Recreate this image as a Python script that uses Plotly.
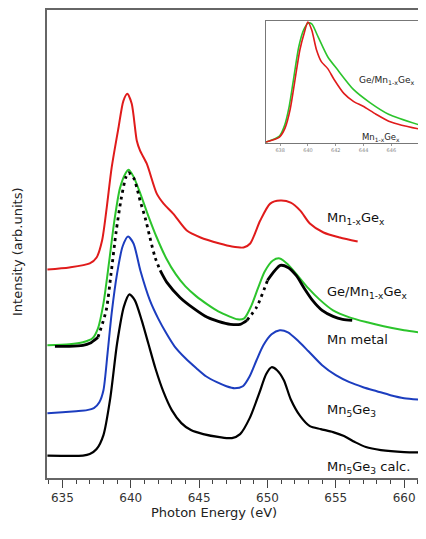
import plotly.graph_objects as go

# ---------------- data (main panel, offset spectra, arb. units) ----------------
calc_E = [633.9, 636.5, 637.0, 637.5, 638.0, 638.5, 639.0, 639.5, 639.9, 640.3, 640.8, 641.3, 641.8,
          642.4, 643.0, 643.7, 644.4, 645.3, 646.5, 647.4, 648.0, 648.7, 649.4, 649.9, 650.3, 650.7,
          651.2, 651.7, 652.4, 653.1, 653.9, 654.8, 655.6, 656.4, 657.2, 658.3, 660.0, 661.6]
calc_I = [22.5, 22.5, 24, 29, 43, 80, 135, 172, 184, 178, 158, 134, 110,
          86, 68, 55, 48, 44, 41, 40, 44, 60, 85, 104, 111, 108,
          98, 79, 62, 52, 49, 46, 42, 36, 31, 28, 26, 25.5]

mn5ge3_E = [633.9, 635.0, 636.0, 636.8, 637.3, 637.7, 638.0, 638.3, 638.6, 639.0, 639.4, 639.8, 640.2,
            640.7, 641.4, 642.0, 642.6, 643.2, 644.0, 644.8, 645.5, 646.3, 647.0, 647.6, 648.2, 648.7,
            649.2, 649.7, 650.3, 650.9, 651.5, 652.2, 653.0, 654.0, 655.0, 656.0, 657.0, 658.0, 659.0,
            660.0, 661.6]
mn5ge3_I = [65, 66, 67, 68, 70, 76, 88, 125, 165, 205, 232, 242, 235,
            208, 178, 160, 145, 132, 120, 110, 102, 96, 92, 90, 92, 102,
            118, 133, 144, 148, 146, 138, 127, 113, 103, 96, 91, 87, 83,
            80, 78]

ge_mnge_E = [633.9, 635.5, 636.5, 637.2, 637.6, 638.0, 638.4, 638.8, 639.2, 639.6, 639.85, 640.2, 640.7,
             641.3, 641.9, 642.6, 643.3, 644.0, 644.8, 645.6, 646.4, 647.2, 647.8, 648.3, 648.8, 649.3,
             649.8, 650.4, 650.9, 651.5, 652.2, 653.0, 653.8, 654.8, 656.0, 657.3, 658.5, 660.0, 661.6]
ge_mnge_I = [133, 134, 136, 140, 150, 175, 215, 258, 290, 305, 309, 302, 285,
             262, 241, 220, 204, 192, 182, 174, 167, 162, 159, 160, 172, 190,
             207, 218, 220, 214, 203, 190, 179, 168, 161, 156, 152, 148, 145]

mn_metal_E = [634.45, 635.5, 636.5, 637.0, 637.6, 638.2, 638.55, 638.93, 639.3, 639.63, 639.83, 640.2,
              640.44, 640.68, 641.05, 641.4, 641.78, 642.15, 642.64, 643.6, 644.6, 645.6, 646.4, 647.3,
              648.0, 648.5, 649.2, 650.0, 650.94, 651.5, 652.1, 652.7, 653.3, 654.0, 654.8, 655.5, 656.2]
mn_metal_I = [132, 132, 133, 135, 141, 168, 204, 247, 280, 301, 306, 301,
              291, 278, 261, 241, 221, 208, 196, 181, 170, 161, 157, 154,
              154, 158, 171, 198, 213, 211, 203, 190, 178, 168, 162, 159, 158]

mn1xgex_E = [633.9, 635.5, 637.0, 637.5, 637.9, 638.24, 638.6, 639.1, 639.46, 639.75, 640.07, 640.44,
             640.68, 641.17, 641.9, 642.4, 643.1, 644.1, 645.1, 646.5, 647.4, 648.25, 648.74, 649.47,
             650.2, 650.94, 651.7, 652.4, 653.1, 654.1, 655.3, 656.6]
mn1xgex_I = [209, 211, 215, 221, 238, 271, 311, 351, 378, 385, 375, 338,
             328, 315, 285, 275, 265, 248, 241, 235, 232, 231, 235, 258,
             275, 278, 276, 268, 255, 246, 241, 237]

# ---------------- data (inset, normalised L3 edge) ----------------
inset_green_E = [636.98, 637.95, 638.3, 638.65, 638.99, 639.34, 639.69, 640.03, 640.27, 640.73, 641.42,
                 642.12, 643.27, 644.43, 645.8, 648.06]
inset_green_I = [0, 6, 16, 36, 66, 96, 113, 120, 119, 106, 86, 73, 53, 40, 28, 17]
inset_red_E = [636.98, 637.95, 638.35, 638.72, 639.07, 639.42, 639.75, 639.99, 640.27, 640.61, 640.96,
               641.42, 641.88, 642.58, 643.27, 643.97, 644.89, 645.81, 646.74, 648.06]
inset_red_I = [0, 5, 14, 33, 63, 93, 111, 121, 113, 93, 81, 74, 63, 49, 41, 36, 28, 21, 17, 13]

x_ticks = [635, 640, 645, 650, 655, 660]
inset_ticks = [638, 640, 642, 644, 646]

RED = "#e01b1b"
GREEN = "#2cc42c"
BLUE = "#1c3dbf"
BLACK = "#000000"

fig = go.Figure()

def line(x, y, color, width, dash="solid", xa="x", ya="y"):
    fig.add_trace(go.Scatter(x=x, y=y, mode="lines", xaxis=xa, yaxis=ya,
                             line=dict(color=color, width=width, dash=dash, shape="spline", smoothing=0.7),
                             hoverinfo="skip", showlegend=False))

line(calc_E, calc_I, BLACK, 2.2)
line(mn5ge3_E, mn5ge3_I, BLUE, 2)
line(ge_mnge_E, ge_mnge_I, GREEN, 2)
# Mn metal: dense data points look solid where flat, dotted where steep
segs = [(0, 4, "solid"), (4, 17, "3px,4px"), (17, 25, "solid"), (25, 27, "3px,4px"), (27, len(mn_metal_E) - 1, "solid")]
for a, b, d in segs:
    line(mn_metal_E[a:b + 1], mn_metal_I[a:b + 1], BLACK, 2.8, d)
line(mn1xgex_E, mn1xgex_I, RED, 2)

line(inset_green_E, inset_green_I, GREEN, 1.6, xa="x2", ya="y2")
line(inset_red_E, inset_red_I, RED, 1.6, xa="x2", ya="y2")

# The page body has an 8px margin: figure pixel = screen pixel - 8
W, H = 418, 523
ML, MT = 39, 2
PW, PH = 379, 468


def px_x(sx):
    return (sx - 8 - ML) / PW


def px_y(sy):
    return (MT + PH - (sy - 8)) / PH


AX = "#666666"
fig.update_layout(
    width=W, height=H,
    margin=dict(l=ML, r=W - ML - PW, t=MT, b=H - MT - PH),
    paper_bgcolor="white", plot_bgcolor="white",
    font=dict(family="DejaVu Sans", color="#222222"),
    xaxis=dict(range=[633.87, 661.6], showgrid=False, zeroline=False,
               showline=True, linecolor=AX, linewidth=1.5, mirror=True,
               ticks="outside", ticklen=8, tickwidth=1, tickcolor="#444",
               tickvals=x_ticks, ticktext=[str(v) for v in x_ticks],
               tickfont=dict(size=12, color="#333"),
               minor=dict(dtick=1, tick0=635, ticks="outside", ticklen=4, tickcolor="#444", showgrid=False)),
    yaxis=dict(range=[0, 469], showgrid=False, zeroline=False, showline=True,
               linecolor=AX, linewidth=1.5, showticklabels=False, ticks=""),
    xaxis2=dict(domain=[px_x(266), px_x(420)], anchor="y2", range=[636.98, 648.06],
                showgrid=False, zeroline=False, showline=True, linecolor="#777", linewidth=1, mirror=True,
                ticks="outside", ticklen=2, tickcolor="#999", tickvals=inset_ticks,
                ticktext=[str(v) for v in inset_ticks], tickfont=dict(size=5, color="#888")),
    yaxis2=dict(domain=[px_y(143), px_y(21)], anchor="x2", range=[-1, 122],
                showgrid=False, zeroline=False, showline=True, linecolor="#777", linewidth=1, mirror=True,
                showticklabels=False, ticks=""),
)

labels = [
    ("Mn<sub>1-x</sub>Ge<sub>x</sub>", 218),
    ("Ge/Mn<sub>1-x</sub>Ge<sub>x</sub>", 292),
    ("Mn metal", 340),
    ("Mn<sub>5</sub>Ge<sub>3</sub>", 410),
    ("Mn<sub>5</sub>Ge<sub>3</sub> calc.", 467),
]
for txt, sy in labels:
    fig.add_annotation(text=txt, xref="paper", yref="paper", x=px_x(325), y=px_y(sy),
                       xanchor="left", yanchor="middle", showarrow=False,
                       font=dict(size=13, color="#111", family="DejaVu Sans"))

fig.add_annotation(text="Ge/Mn<sub>1-x</sub>Ge<sub>x</sub>", xref="paper", yref="paper",
                   x=px_x(417), y=px_y(80), xanchor="right", yanchor="middle", showarrow=False,
                   font=dict(size=9, color="#222", family="DejaVu Sans"))
fig.add_annotation(text="Mn<sub>1-x</sub>Ge<sub>x</sub>", xref="paper", yref="paper",
                   x=px_x(360), y=px_y(137), xanchor="left", yanchor="middle", showarrow=False,
                   font=dict(size=8.5, color="#222", family="DejaVu Sans"))

fig.add_annotation(text="Photon Energy (eV)", xref="paper", yref="paper",
                   x=px_x(214), y=px_y(512), xanchor="center", yanchor="middle", showarrow=False,
                   font=dict(size=13, color="#222", family="DejaVu Sans"))
fig.add_annotation(text="Intensity (arb.units)", xref="paper", yref="paper", textangle=-90,
                   x=px_x(18), y=px_y(252), xanchor="center", yanchor="middle", showarrow=False,
                   font=dict(size=13, color="#222", family="DejaVu Sans"))

fig.write_html("out.html")
